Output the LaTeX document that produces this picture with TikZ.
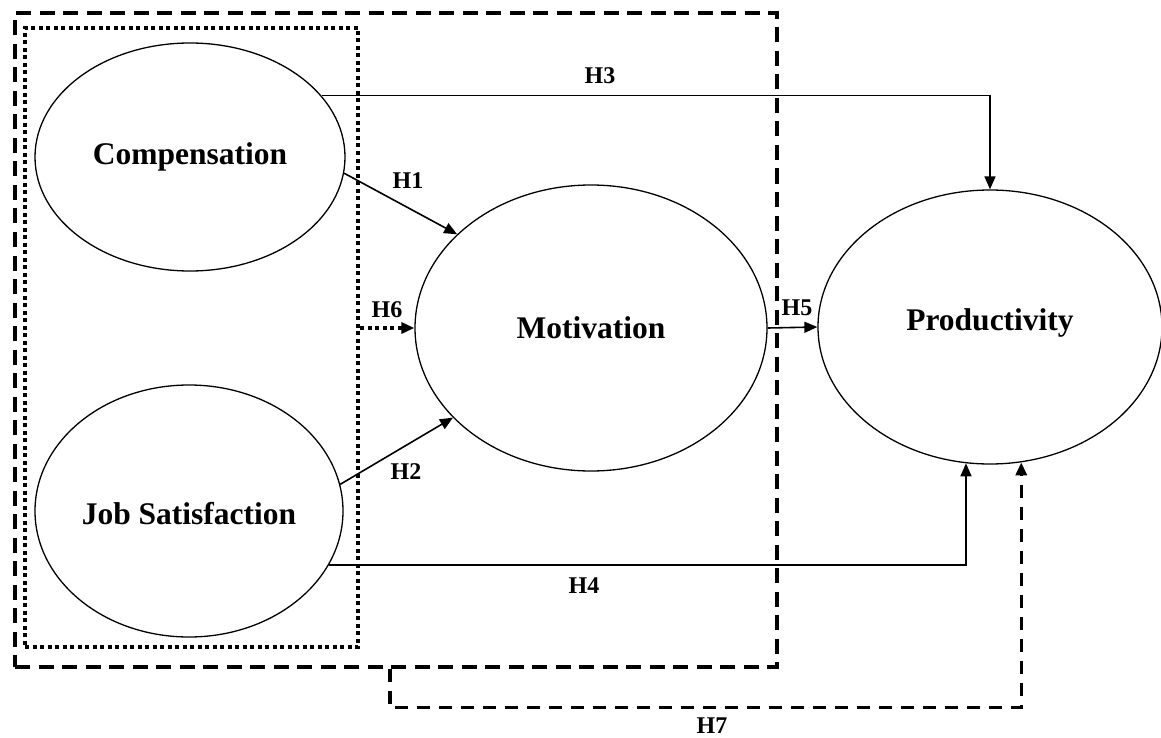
\documentclass[tikz,border=0pt]{standalone}
\usepackage{fontspec}
\setmainfont{Liberation Serif}
\usetikzlibrary{arrows.meta,shapes.geometric}
\begin{document}
\begin{tikzpicture}[x=1pt,y=-1pt,
  construct/.style={draw, ellipse, line width=1.3pt, inner sep=0pt},
  big/.style={font=\bfseries\fontsize{31.5}{36}\selectfont, inner sep=0pt},
  hyp/.style={font=\bfseries\fontsize{24}{27}\selectfont, inner sep=0pt},
  link/.style={line width=1.6pt, -{Triangle[length=13pt,width=11pt]}},
  dashbox/.style={draw, line width=3.3pt, dash pattern=on 15pt off 8.5pt},
  dotbox/.style={draw, line width=4.5pt, dash pattern=on 4pt off 3.5pt},
  dashlink/.style={line width=3.3pt, dash pattern=on 13pt off 9pt, -{Triangle[length=13pt,width=11pt]}},
  dotlink/.style={line width=4.5pt, dash pattern=on 4pt off 3.5pt, -{Triangle[length=13pt,width=11pt]}},
]
\fill[white] (0,0) rectangle (1161,738);
\useasboundingbox (0,0) rectangle (1161,738);

% grouping boxes
\node[dashbox, minimum width=762pt, minimum height=654pt, inner sep=0pt] (outer) at (396,340) {};
\node[dotbox, minimum width=333pt, minimum height=619pt, inner sep=0pt] (inner) at (191.5,337.5) {};

% constructs
\node[construct, minimum width=310pt, minimum height=228pt,
      label={[big]center:Compensation}] (comp) at (190,157) {};
\node[construct, minimum width=308pt, minimum height=252pt,
      label={[big, yshift=-3pt]center:Job Satisfaction}] (job) at (189,511) {};
\node[construct, minimum width=352pt, minimum height=286pt,
      label={[big]center:Motivation}] (mot) at (591,328) {};
\node[construct, minimum width=344pt, minimum height=274pt,
      label={[big, yshift=4pt]center:Productivity}] (prod) at (990,327) {};

% hypotheses
\draw[link] (comp.25) -| (prod.north);
\draw[link] (comp.-6) -- (mot.145);
\draw[link] (job.10) -- (mot.-147);
\draw[link] (job.-21) -| (prod.-100);
\draw[link] (mot.east) -- (prod.west);
\draw[dotlink] (inner.east |- mot.west) -- (mot.west);
\draw[dashlink] ([xshift=-6pt]outer.south) -- ++(0,39) -| (prod.-77);

% labels
\node[hyp] (h3) at (600,76) {H3};
\node[hyp] (h1) at (408,181) {H1};
\node[hyp] (h6) at (387,310) {H6};
\node[hyp] (h2) at (406,472) {H2};
\node[hyp] (h4) at (584,586) {H4};
\node[hyp] (h5) at (797,308) {H5};
\node[hyp] (h7) at (712,726) {H7};
\end{tikzpicture}
\end{document}
